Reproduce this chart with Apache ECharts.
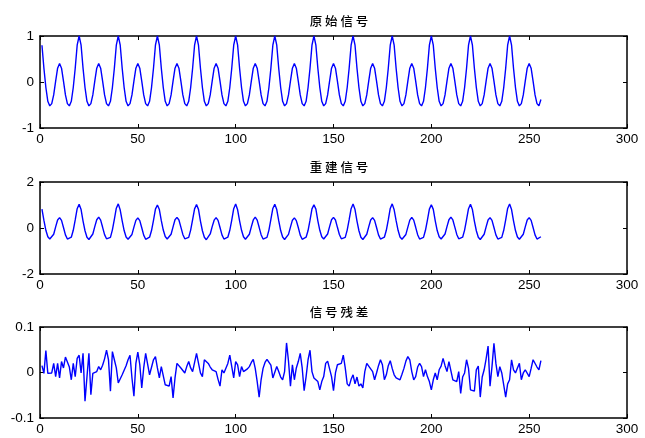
<!DOCTYPE html>
<html><head><meta charset="utf-8">
<script src="https://cdn.jsdelivr.net/npm/echarts@6/dist/echarts.min.js"></script>
<style>html,body{margin:0;padding:0;background:#fff}#c{width:645px;height:438px}</style>
</head><body><div id="c"></div>
<script>
const titles = ['原 始 信 号', '重 建 信 号', '信 号 残 差'];
const xTicks = [0, 50, 100, 150, 200, 250, 300];
const yRanges = [[-1, 1, 1], [-2, 2, 2], [-0.1, 0.1, 0.1]];

const original = [
0.80,0.30,-0.12,-0.42,-0.52,-0.47,-0.28,0.02,0.30,0.40,0.30,0.02,-0.28,-0.47,-0.52,-0.42,-0.12,0.30,0.80,1.00,
0.80,0.30,-0.12,-0.42,-0.52,-0.47,-0.28,0.02,0.30,0.40,0.30,0.02,-0.28,-0.47,-0.52,-0.42,-0.12,0.30,0.80,1.00,
0.80,0.30,-0.12,-0.42,-0.52,-0.47,-0.28,0.02,0.30,0.40,0.30,0.02,-0.28,-0.47,-0.52,-0.42,-0.12,0.30,0.80,1.00,
0.80,0.30,-0.12,-0.42,-0.52,-0.47,-0.28,0.02,0.30,0.40,0.30,0.02,-0.28,-0.47,-0.52,-0.42,-0.12,0.30,0.80,1.00,
0.80,0.30,-0.12,-0.42,-0.52,-0.47,-0.28,0.02,0.30,0.40,0.30,0.02,-0.28,-0.47,-0.52,-0.42,-0.12,0.30,0.80,1.00,
0.80,0.30,-0.12,-0.42,-0.52,-0.47,-0.28,0.02,0.30,0.40,0.30,0.02,-0.28,-0.47,-0.52,-0.42,-0.12,0.30,0.80,1.00,
0.80,0.30,-0.12,-0.42,-0.52,-0.47,-0.28,0.02,0.30,0.40,0.30,0.02,-0.28,-0.47,-0.52,-0.42,-0.12,0.30,0.80,1.00,
0.80,0.30,-0.12,-0.42,-0.52,-0.47,-0.28,0.02,0.30,0.40,0.30,0.02,-0.28,-0.47,-0.52,-0.42,-0.12,0.30,0.80,1.00,
0.80,0.30,-0.12,-0.42,-0.52,-0.47,-0.28,0.02,0.30,0.40,0.30,0.02,-0.28,-0.47,-0.52,-0.42,-0.12,0.30,0.80,1.00,
0.80,0.30,-0.12,-0.42,-0.52,-0.47,-0.28,0.02,0.30,0.40,0.30,0.02,-0.28,-0.47,-0.52,-0.42,-0.12,0.30,0.80,1.00,
0.80,0.30,-0.12,-0.42,-0.52,-0.47,-0.28,0.02,0.30,0.40,0.30,0.02,-0.28,-0.47,-0.52,-0.42,-0.12,0.30,0.80,1.00,
0.80,0.30,-0.12,-0.42,-0.52,-0.47,-0.28,0.02,0.30,0.40,0.30,0.02,-0.28,-0.47,-0.52,-0.42,-0.12,0.30,0.80,1.00,
0.80,0.30,-0.12,-0.42,-0.52,-0.47,-0.28,0.02,0.30,0.40,0.30,0.02,-0.28,-0.47,-0.52,-0.38
];

const rebuilt = [
0.82,0.33,-0.10,-0.38,-0.48,-0.46,-0.27,0.05,0.35,0.45,0.33,0.02,-0.30,-0.48,-0.50,-0.40,-0.10,0.35,0.84,1.03,
0.80,0.30,-0.12,-0.40,-0.50,-0.45,-0.26,0.06,0.36,0.47,0.34,0.03,-0.29,-0.47,-0.51,-0.41,-0.08,0.38,0.86,1.05,
0.78,0.31,-0.11,-0.39,-0.49,-0.46,-0.28,0.04,0.33,0.44,0.32,0.01,-0.31,-0.49,-0.52,-0.40,-0.11,0.33,0.82,1.00,
0.80,0.32,-0.09,-0.37,-0.48,-0.45,-0.27,0.05,0.36,0.46,0.35,0.04,-0.28,-0.47,-0.50,-0.41,-0.09,0.36,0.83,1.02,
0.81,0.30,-0.12,-0.40,-0.51,-0.46,-0.26,0.06,0.34,0.45,0.33,0.02,-0.30,-0.48,-0.51,-0.40,-0.10,0.34,0.84,1.04,
0.79,0.31,-0.10,-0.38,-0.49,-0.45,-0.27,0.05,0.35,0.47,0.34,0.03,-0.29,-0.48,-0.50,-0.41,-0.09,0.37,0.85,1.03,
0.80,0.32,-0.11,-0.39,-0.50,-0.46,-0.28,0.04,0.34,0.44,0.32,0.02,-0.31,-0.49,-0.51,-0.40,-0.11,0.34,0.83,1.01,
0.82,0.31,-0.10,-0.38,-0.48,-0.45,-0.26,0.06,0.36,0.46,0.35,0.03,-0.28,-0.47,-0.50,-0.41,-0.09,0.36,0.84,1.04,
0.80,0.30,-0.12,-0.40,-0.50,-0.46,-0.27,0.05,0.35,0.45,0.33,0.02,-0.30,-0.48,-0.51,-0.40,-0.10,0.35,0.85,1.05,
0.79,0.32,-0.10,-0.39,-0.49,-0.45,-0.28,0.04,0.34,0.46,0.34,0.03,-0.29,-0.48,-0.50,-0.41,-0.10,0.34,0.82,1.01,
0.81,0.31,-0.11,-0.38,-0.48,-0.46,-0.26,0.06,0.36,0.47,0.35,0.04,-0.28,-0.47,-0.51,-0.40,-0.09,0.36,0.84,1.03,
0.80,0.30,-0.12,-0.40,-0.50,-0.45,-0.27,0.05,0.35,0.45,0.33,0.02,-0.30,-0.48,-0.50,-0.41,-0.10,0.35,0.85,1.04,
0.80,0.31,-0.11,-0.39,-0.49,-0.46,-0.27,0.05,0.35,0.45,0.33,0.02,-0.30,-0.48,-0.50,-0.38
];

const residual = [
0.015,-0.002,0.048,-0.002,0.002,-0.001,0.020,-0.009,0.020,-0.012,
0.024,0.010,0.034,0.030,0.012,-0.016,0.020,-0.009,0.031,0.038,
-0.001,0.042,-0.063,-0.010,0.042,-0.049,-0.002,-0.005,0.002,0.013,
0.006,0.016,0.030,0.049,0.028,-0.041,0.046,0.028,0.010,-0.023,
-0.023,-0.005,-0.001,0.015,0.028,0.038,-0.012,-0.052,0.020,0.045,
0.017,-0.034,0.010,0.042,0.038,-0.005,-0.005,0.028,0.035,0.010,
-0.012,0.013,0.017,-0.027,-0.030,-0.030,-0.009,-0.056,-0.012,0.020,
0.017,0.010,0.006,-0.001,0.013,0.024,0.010,0.002,-0.001,0.042,
0.046,-0.001,-0.009,0.028,0.031,0.020,0.012,0.006,0.006,0.002,
-0.015,-0.030,0.006,-0.001,0.002,0.020,0.038,0.013,-0.012,0.024,
0.017,-0.009,0.013,0.002,0.002,0.008,0.013,0.022,0.029,0.009,
-0.020,-0.054,-0.016,0.009,0.022,0.029,0.027,0.016,-0.012,-0.009,
0.013,0.002,-0.010,-0.016,0.002,0.065,0.025,-0.030,0.017,-0.016,
0.010,0.024,0.042,0.010,-0.040,-0.009,0.028,0.049,0.002,-0.012,
-0.015,-0.020,-0.038,-0.020,-0.009,0.020,0.025,0.029,-0.009,-0.040,
-0.001,0.017,0.020,0.020,0.038,0.010,-0.025,-0.030,-0.015,-0.005,
-0.025,-0.010,-0.030,-0.025,-0.034,0.002,0.020,0.017,0.008,0.002,
-0.016,-0.001,0.015,0.028,0.017,-0.016,-0.005,0.015,0.026,0.009,
-0.005,-0.012,-0.016,-0.016,-0.004,0.009,0.025,0.035,0.028,0.002,
-0.016,-0.009,0.012,0.020,0.013,-0.009,0.006,-0.009,-0.020,-0.038,
-0.016,-0.001,-0.016,0.006,0.014,0.031,0.015,0.002,0.024,0.020,
-0.016,-0.018,-0.020,0.002,-0.046,-0.010,-0.001,0.028,0.009,-0.038,
-0.040,-0.041,0.006,0.014,-0.054,-0.010,0.006,0.030,0.058,-0.030,
0.013,0.064,0.020,-0.009,0.013,-0.001,-0.001,-0.054,-0.025,-0.016,
0.028,0.006,-0.001,0.010,0.020,-0.016,-0.001,0.006,0.009,-0.009,
0.009,0.028,0.024,0.012,0.006,0.026
];

const seriesData = [original, rebuilt, residual];
const tops = [36, 182, 327];
const heights = [92, 92, 91];
const fontFam = 'Liberation Sans, Arial, sans-serif';

const chart = echarts.init(document.getElementById('c'), null, {renderer: 'canvas'});
const grid = [], xAxis = [], yAxis = [], series = [], title = [];
for (let i = 0; i < 3; i++) {
  grid.push({left: 40, width: 587, top: tops[i], height: heights[i], containLabel: false});
  const axLine = {show: true, onZero: false, lineStyle: {color: '#000', width: 1.5}};
  const tick = {show: true, inside: true, length: 4, lineStyle: {color: '#000', width: 1}};
  xAxis.push({type: 'value', gridIndex: i, position: 'bottom', min: 0, max: 300, interval: 50,
    axisLine: axLine, axisTick: tick, splitLine: {show: false},
    axisLabel: {color: '#000', fontSize: 13.5, fontFamily: fontFam, margin: 4,
      formatter: v => xTicks.includes(v) ? String(v) : ''}});
  xAxis.push({type: 'value', gridIndex: i, position: 'top', min: 0, max: 300, interval: 50,
    axisLine: axLine, axisTick: tick, splitLine: {show: false}, axisLabel: {show: false}});
  const r = yRanges[i];
  yAxis.push({type: 'value', gridIndex: i, position: 'left', min: r[0], max: r[1], interval: r[2],
    axisLine: axLine, axisTick: tick, splitLine: {show: false},
    axisLabel: {color: '#000', fontSize: 13.5, fontFamily: fontFam, margin: 6,
      formatter: v => String(Math.round(v * 10) / 10)}});
  yAxis.push({type: 'value', gridIndex: i, position: 'right', min: r[0], max: r[1], interval: r[2],
    axisLine: axLine, axisTick: tick, splitLine: {show: false}, axisLabel: {show: false}});
  series.push({type: 'line', xAxisIndex: 2 * i, yAxisIndex: 2 * i, showSymbol: false, symbol: 'none',
    data: seriesData[i].map((v, k) => [k + 1, v]),
    lineStyle: {color: '#0000ff', width: 1.4}, animation: false});
  title.push({text: titles[i], left: 334, top: tops[i] - 26, textAlign: 'center',
    textStyle: {fontSize: 12.5, fontWeight: 500, color: '#000', fontFamily: 'Noto Sans CJK SC, sans-serif'}});
}
chart.setOption({animation: false, backgroundColor: '#fff', title, grid, xAxis, yAxis, series});
</script></body></html>
